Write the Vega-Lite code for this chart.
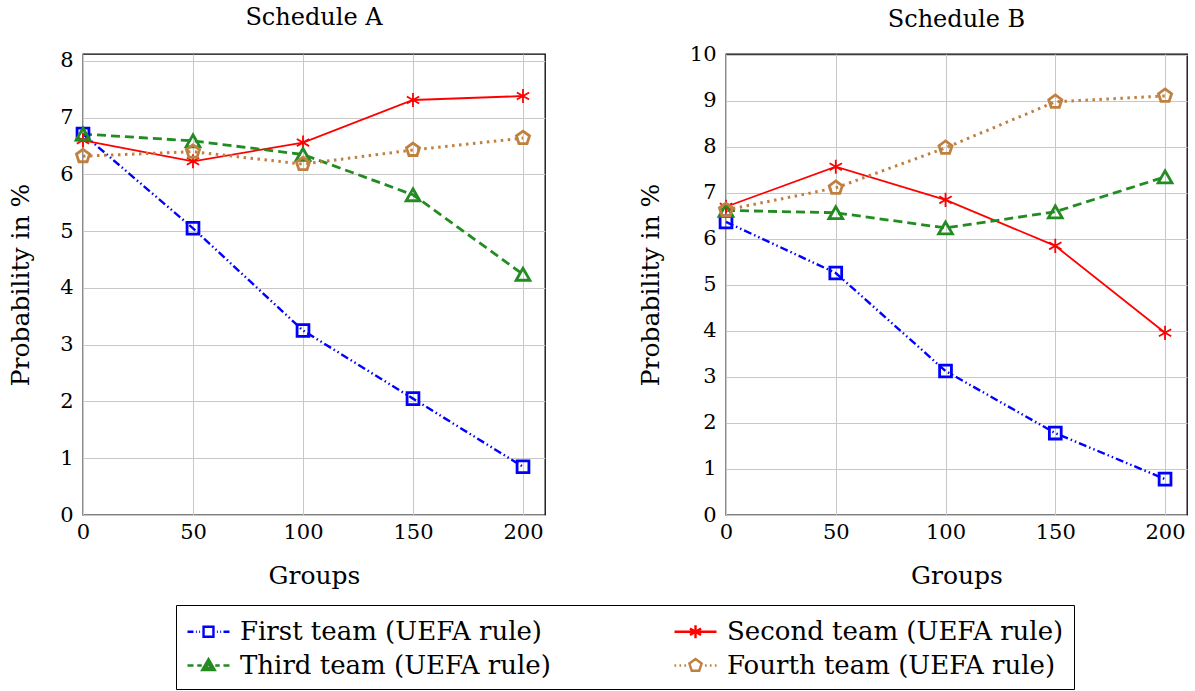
{
  "$schema": "https://vega.github.io/schema/vega-lite/v6.json",
  "padding": {"left": 7, "top": 5, "right": 5, "bottom": 1},
  "background": "white",
  "datasets": {
    "A": [
      {"x": 0, "series": "First team (UEFA rule)", "y": 6.71},
      {"x": 50, "series": "First team (UEFA rule)", "y": 5.05},
      {"x": 100, "series": "First team (UEFA rule)", "y": 3.25},
      {"x": 150, "series": "First team (UEFA rule)", "y": 2.05},
      {"x": 200, "series": "First team (UEFA rule)", "y": 0.85},
      {"x": 0, "series": "Second team (UEFA rule)", "y": 6.6},
      {"x": 50, "series": "Second team (UEFA rule)", "y": 6.23},
      {"x": 100, "series": "Second team (UEFA rule)", "y": 6.56},
      {"x": 150, "series": "Second team (UEFA rule)", "y": 7.31},
      {"x": 200, "series": "Second team (UEFA rule)", "y": 7.38},
      {"x": 0, "series": "Third team (UEFA rule)", "y": 6.71},
      {"x": 50, "series": "Third team (UEFA rule)", "y": 6.59},
      {"x": 100, "series": "Third team (UEFA rule)", "y": 6.35},
      {"x": 150, "series": "Third team (UEFA rule)", "y": 5.64},
      {"x": 200, "series": "Third team (UEFA rule)", "y": 4.24},
      {"x": 0, "series": "Fourth team (UEFA rule)", "y": 6.32},
      {"x": 50, "series": "Fourth team (UEFA rule)", "y": 6.4},
      {"x": 100, "series": "Fourth team (UEFA rule)", "y": 6.18},
      {"x": 150, "series": "Fourth team (UEFA rule)", "y": 6.43},
      {"x": 200, "series": "Fourth team (UEFA rule)", "y": 6.64}
    ],
    "B": [
      {"x": 0, "series": "First team (UEFA rule)", "y": 6.37},
      {"x": 50, "series": "First team (UEFA rule)", "y": 5.26},
      {"x": 100, "series": "First team (UEFA rule)", "y": 3.13},
      {"x": 150, "series": "First team (UEFA rule)", "y": 1.78},
      {"x": 200, "series": "First team (UEFA rule)", "y": 0.78},
      {"x": 0, "series": "Second team (UEFA rule)", "y": 6.7},
      {"x": 50, "series": "Second team (UEFA rule)", "y": 7.57},
      {"x": 100, "series": "Second team (UEFA rule)", "y": 6.85},
      {"x": 150, "series": "Second team (UEFA rule)", "y": 5.85},
      {"x": 200, "series": "Second team (UEFA rule)", "y": 3.96},
      {"x": 0, "series": "Third team (UEFA rule)", "y": 6.62},
      {"x": 50, "series": "Third team (UEFA rule)", "y": 6.57},
      {"x": 100, "series": "Third team (UEFA rule)", "y": 6.24},
      {"x": 150, "series": "Third team (UEFA rule)", "y": 6.59},
      {"x": 200, "series": "Third team (UEFA rule)", "y": 7.35},
      {"x": 0, "series": "Fourth team (UEFA rule)", "y": 6.63},
      {"x": 50, "series": "Fourth team (UEFA rule)", "y": 7.11},
      {"x": 100, "series": "Fourth team (UEFA rule)", "y": 7.98},
      {"x": 150, "series": "Fourth team (UEFA rule)", "y": 8.98},
      {"x": 200, "series": "Fourth team (UEFA rule)", "y": 9.11}
    ]
  },
  "hconcat": [
    {
      "width": 462,
      "height": 461,
      "title": {"text": "Schedule A", "offset": 20},
      "data": {"name": "A"},
      "encoding": {
        "x": {"field": "x", "type": "quantitative", "scale": {"domain": [0, 210], "nice": false}, "axis": {"values": [0, 50, 100, 150, 200], "title": "Groups"}},
        "y": {"field": "y", "type": "quantitative", "scale": {"domain": [0, 8.12], "nice": false}, "axis": {"values": [0, 1, 2, 3, 4, 5, 6, 7, 8], "title": "Probability in %"}}
      },
      "layer": [
        {"transform": [{"filter": "datum.series === 'First team (UEFA rule)'"}], "mark": {"type": "line", "color": "#0000ff", "strokeWidth": 2.4, "strokeDash": [8, 3, 1.5, 3, 1.5, 3]}, "encoding": {}},
        {"transform": [{"filter": "datum.series === 'Second team (UEFA rule)'"}], "mark": {"type": "line", "color": "#ff0000", "strokeWidth": 1.8}, "encoding": {}},
        {"transform": [{"filter": "datum.series === 'Third team (UEFA rule)'"}], "mark": {"type": "line", "color": "#228b22", "strokeWidth": 2.8, "strokeDash": [9, 5]}, "encoding": {}},
        {"transform": [{"filter": "datum.series === 'Fourth team (UEFA rule)'"}], "mark": {"type": "line", "color": "#bf8040", "strokeWidth": 3, "strokeDash": [2.5, 4.5]}, "encoding": {}},
        {"transform": [{"filter": "datum.series === 'First team (UEFA rule)'"}], "mark": {"type": "point", "shape": "square", "size": 140, "filled": false, "strokeWidth": 2.8, "color": "#0000ff", "opacity": 1}},
        {"transform": [{"filter": "datum.series === 'Second team (UEFA rule)'"}], "mark": {"type": "point", "shape": "M0,-1L0,1M-0.87,-0.5L0.87,0.5M-0.87,0.5L0.87,-0.5", "size": 200, "filled": false, "strokeWidth": 1.8, "color": "#ff0000", "opacity": 1}},
        {"transform": [{"filter": "datum.series === 'Third team (UEFA rule)'"}], "mark": {"type": "point", "shape": "triangle-up", "size": 190, "filled": false, "strokeWidth": 2.8, "color": "#228b22", "opacity": 1}},
        {"transform": [{"filter": "datum.series === 'Fourth team (UEFA rule)'"}], "mark": {"type": "point", "shape": "M0,-1L0.951,-0.309L0.588,0.809L-0.588,0.809L-0.951,-0.309Z", "size": 190, "filled": false, "strokeWidth": 2.8, "color": "#bf8040", "opacity": 1}},
        {
          "mark": {"type": "point", "filled": false, "opacity": 0},
          "encoding": {
            "color": {"field": "series", "type": "nominal", "scale": {"domain": ["First team (UEFA rule)", "Third team (UEFA rule)", "Second team (UEFA rule)", "Fourth team (UEFA rule)"], "range": ["#0000ff", "#228b22", "#ff0000", "#bf8040"]}, "legend": {"title": null, "orient": "none", "legendX": 93, "legendY": 551, "columns": 2}},
            "shape": {"field": "series", "type": "nominal", "scale": {"domain": ["First team (UEFA rule)", "Third team (UEFA rule)", "Second team (UEFA rule)", "Fourth team (UEFA rule)"], "range": [
              "M-1.4,0L-1.0,0M-0.84,0L-0.78,0M-0.62,0L-0.56,0M-0.33,-0.33L0.33,-0.33L0.33,0.33L-0.33,0.33ZM0.56,0L0.62,0M0.78,0L0.84,0M1.0,0L1.4,0",
              "M-1.4,0L-1.0,0M-0.75,0L-0.45,0M0.45,0L0.75,0M1.0,0L1.4,0M0,-0.42L0.42,0.3L-0.42,0.3ZM0,-0.15L0.18,0.17L-0.18,0.17Z",
              "M-1.4,0L1.4,0M0,-0.43L0,0.43M-0.37,-0.21L0.37,0.21M-0.37,0.21L0.37,-0.21",
              "M-1.4,0L-1.29,0M-1.07,0L-0.96,0M-0.74,0L-0.63,0M0.63,0L0.74,0M0.96,0L1.07,0M1.29,0L1.4,0M0,-0.43L0.41,-0.13L0.25,0.35L-0.25,0.35L-0.41,-0.13Z"
            ]}, "legend": {"title": null, "orient": "none", "legendX": 93, "legendY": 551, "columns": 2}}
          }
        }
      ]
    },
    {
      "width": 461,
      "height": 461,
      "title": {"text": "Schedule B", "offset": 12},
      "data": {"name": "B"},
      "encoding": {
        "x": {"field": "x", "type": "quantitative", "scale": {"domain": [0, 210], "nice": false}, "axis": {"values": [0, 50, 100, 150, 200], "title": "Groups"}},
        "y": {"field": "y", "type": "quantitative", "scale": {"domain": [0, 10.02], "nice": false}, "axis": {"values": [0, 1, 2, 3, 4, 5, 6, 7, 8, 9, 10], "title": "Probability in %"}}
      },
      "layer": [
        {"transform": [{"filter": "datum.series === 'First team (UEFA rule)'"}], "mark": {"type": "line", "color": "#0000ff", "strokeWidth": 2.4, "strokeDash": [8, 3, 1.5, 3, 1.5, 3]}, "encoding": {}},
        {"transform": [{"filter": "datum.series === 'Second team (UEFA rule)'"}], "mark": {"type": "line", "color": "#ff0000", "strokeWidth": 1.8}, "encoding": {}},
        {"transform": [{"filter": "datum.series === 'Third team (UEFA rule)'"}], "mark": {"type": "line", "color": "#228b22", "strokeWidth": 2.8, "strokeDash": [9, 5]}, "encoding": {}},
        {"transform": [{"filter": "datum.series === 'Fourth team (UEFA rule)'"}], "mark": {"type": "line", "color": "#bf8040", "strokeWidth": 3, "strokeDash": [2.5, 4.5]}, "encoding": {}},
        {"transform": [{"filter": "datum.series === 'First team (UEFA rule)'"}], "mark": {"type": "point", "shape": "square", "size": 140, "filled": false, "strokeWidth": 2.8, "color": "#0000ff", "opacity": 1}},
        {"transform": [{"filter": "datum.series === 'Second team (UEFA rule)'"}], "mark": {"type": "point", "shape": "M0,-1L0,1M-0.87,-0.5L0.87,0.5M-0.87,0.5L0.87,-0.5", "size": 200, "filled": false, "strokeWidth": 1.8, "color": "#ff0000", "opacity": 1}},
        {"transform": [{"filter": "datum.series === 'Third team (UEFA rule)'"}], "mark": {"type": "point", "shape": "triangle-up", "size": 190, "filled": false, "strokeWidth": 2.8, "color": "#228b22", "opacity": 1}},
        {"transform": [{"filter": "datum.series === 'Fourth team (UEFA rule)'"}], "mark": {"type": "point", "shape": "M0,-1L0.951,-0.309L0.588,0.809L-0.588,0.809L-0.951,-0.309Z", "size": 190, "filled": false, "strokeWidth": 2.8, "color": "#bf8040", "opacity": 1}},
        {
          "mark": {"type": "point", "filled": false, "opacity": 0},
          "encoding": {
            "color": {"field": "series", "type": "nominal", "scale": {"domain": ["First team (UEFA rule)", "Third team (UEFA rule)", "Second team (UEFA rule)", "Fourth team (UEFA rule)"], "range": ["#0000ff", "#228b22", "#ff0000", "#bf8040"]}, "legend": {"title": null, "orient": "none", "legendX": 93, "legendY": 551, "columns": 2}},
            "shape": {"field": "series", "type": "nominal", "scale": {"domain": ["First team (UEFA rule)", "Third team (UEFA rule)", "Second team (UEFA rule)", "Fourth team (UEFA rule)"], "range": [
              "M-1.4,0L-1.0,0M-0.84,0L-0.78,0M-0.62,0L-0.56,0M-0.33,-0.33L0.33,-0.33L0.33,0.33L-0.33,0.33ZM0.56,0L0.62,0M0.78,0L0.84,0M1.0,0L1.4,0",
              "M-1.4,0L-1.0,0M-0.75,0L-0.45,0M0.45,0L0.75,0M1.0,0L1.4,0M0,-0.42L0.42,0.3L-0.42,0.3ZM0,-0.15L0.18,0.17L-0.18,0.17Z",
              "M-1.4,0L1.4,0M0,-0.43L0,0.43M-0.37,-0.21L0.37,0.21M-0.37,0.21L0.37,-0.21",
              "M-1.4,0L-1.29,0M-1.07,0L-0.96,0M-0.74,0L-0.63,0M0.63,0L0.74,0M0.96,0L1.07,0M1.29,0L1.4,0M0,-0.43L0.41,-0.13L0.25,0.35L-0.25,0.35L-0.41,-0.13Z"
            ]}, "legend": {"title": null, "orient": "none", "legendX": 93, "legendY": 551, "columns": 2}}
          }
        }
      ]
    }
  ],
  "spacing": 91,
  "config": {
    "font": "DejaVu Serif",
    "view": {"stroke": "#000000", "strokeWidth": 1.3},
    "title": {"font": "DejaVu Serif", "fontSize": 24, "fontWeight": "normal", "color": "#000000"},
    "axis": {
      "labelFont": "DejaVu Serif",
      "titleFont": "DejaVu Serif",
      "labelFontSize": 21,
      "titleFontSize": 25,
      "titleFontWeight": "normal",
      "labelColor": "#000000",
      "titleColor": "#000000",
      "labelFlush": false,
      "gridColor": "#c8c8c8",
      "gridWidth": 1,
      "domain": false,
      "ticks": false
    },
    "axisX": {"labelPadding": 6, "titlePadding": 21},
    "axisY": {"labelPadding": 10, "titlePadding": 26},
    "legend": {
      "labelFont": "DejaVu Serif",
      "labelFontSize": 26,
      "labelColor": "#000000",
      "labelLimit": 0,
      "symbolSize": 900,
      "symbolOffset": 6,
      "symbolStrokeWidth": 2.4,
      "symbolOpacity": 1,
      "strokeColor": "#000000",
      "padding": 10,
      "rowPadding": 4,
      "columnPadding": 118,
      "labelOffset": 15
    }
  }
}
